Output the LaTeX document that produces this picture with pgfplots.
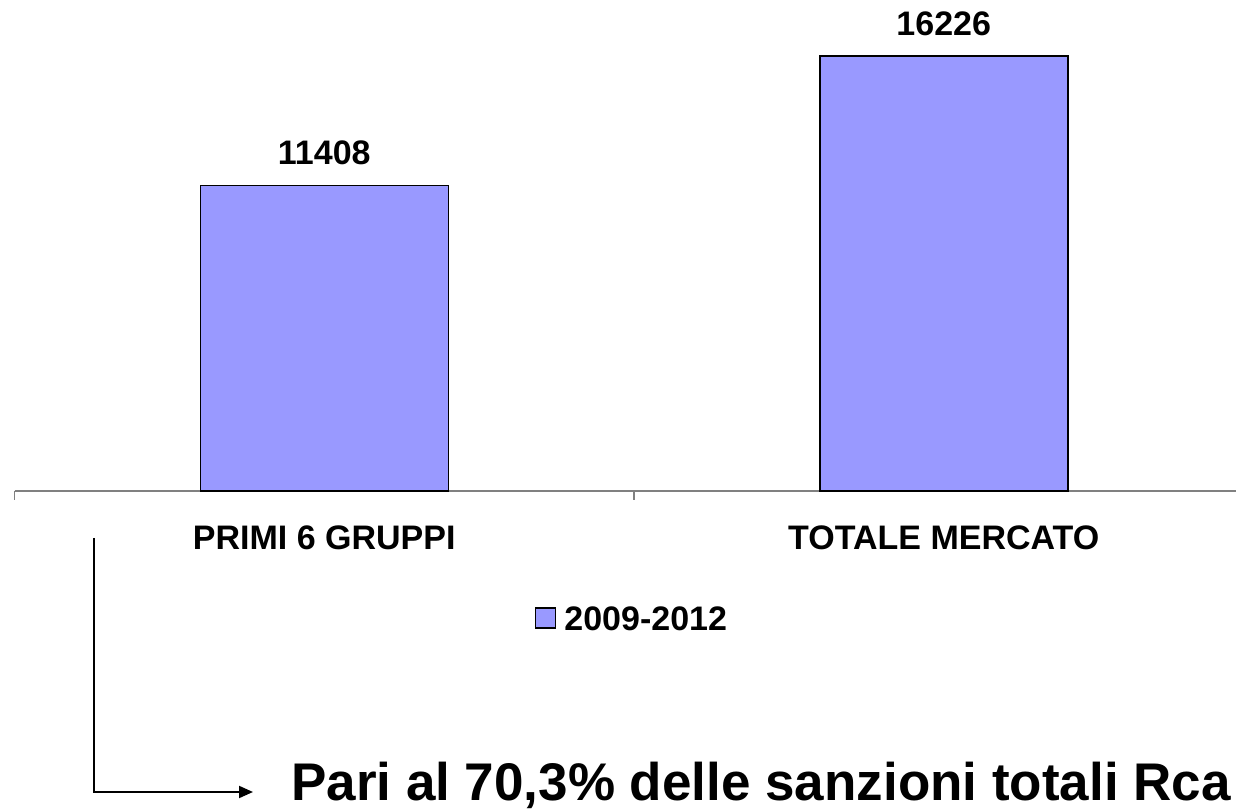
\documentclass[border=0pt]{standalone}
\usepackage{fontspec}
\setmainfont{Liberation Sans}
\usepackage{pgfplots}
\pgfplotsset{compat=1.18}
\usetikzlibrary{arrows.meta}
\definecolor{barblue}{HTML}{9999FF}
\begin{document}
\begin{tikzpicture}[x=1pt,y=1pt]
\useasboundingbox (0,0) rectangle (1236,810);
\begin{axis}[
  at={(14.5pt,319pt)}, anchor=south west,
  x=619.5pt, y=0.0268pt,
  xmin=-0.5, xmax=1.4718, ymin=0, ymax=18000,
  hide y axis,
  axis x line*=bottom,
  x axis line style={-, draw=gray, line width=1.5pt},
  xtick={0,1},
  xticklabels={PRIMI 6 GRUPPI, TOTALE MERCATO},
  major tick length=0pt,
  extra x ticks={-0.5,0.5},
  extra x tick labels={},
  extra x tick style={major tick length=9pt, tick align=outside, tick style={gray, line width=1.2pt}},
  xticklabel style={font=\fontsize{34}{40}\selectfont\bfseries, anchor=base, yshift=-59pt},
  clip=false,
  /pgf/number format/.cd, 1000 sep={}, assume math mode=true, /pgfplots/.cd,
  nodes near coords,
  every node near coord/.append style={font=\fontsize{34}{40}\selectfont\bfseries, anchor=base, yshift=21pt},
  legend style={at={(0.5055,-0.267)}, anchor=center, draw=none, fill=none,
    font=\fontsize{34}{40}\selectfont\bfseries,
    /tikz/every odd column/.append style={column sep=6pt}},
]
\addplot[ybar, bar width=248pt, fill=barblue, draw=black, line width=1.5pt,
  legend image code/.code={\draw[fill=barblue, draw=black, line width=1.5pt] (0pt,-8pt) rectangle (20pt,12pt);}]
  coordinates {(0,11408) (1,16226)};
\addlegendentry{2009-2012}
\end{axis}
\draw[line width=2pt, -{Triangle[length=14pt,width=12pt]}] (94,272) -- (94,18) -- (253,18);
\node[anchor=base west, inner sep=0pt, font=\fontsize{53}{60}\selectfont\bfseries] at (291,9) {Pari al 70,3\% delle sanzioni totali Rca};
\end{tikzpicture}
\end{document}
